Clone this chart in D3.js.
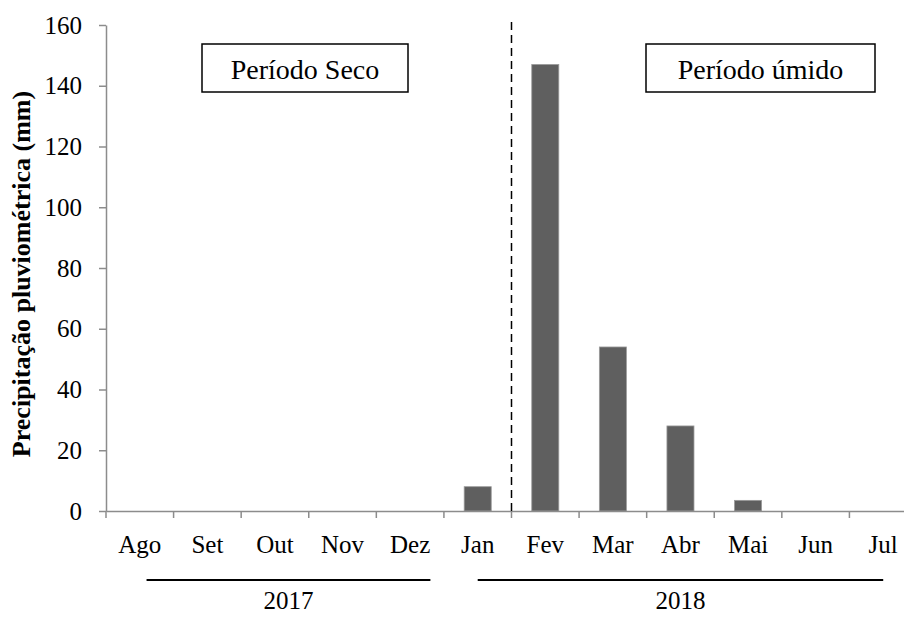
<!DOCTYPE html>
<html><head><meta charset="utf-8">
<script src="https://cdn.jsdelivr.net/npm/d3@7"></script>
<style>body{margin:0;background:#fff}svg{display:block}svg text{font-family:"Liberation Serif","DejaVu Serif",serif !important}</style>
</head><body><div id="chart"></div>
<script>
const months = ["Ago","Set","Out","Nov","Dez","Jan","Fev","Mar","Abr","Mai","Jun","Jul"];
const rainfall = [0,0,0,0,0,8,147,54,28,3.5,0,0];
const yTicks = [0,20,40,60,80,100,120,140,160];
const years = ["2017","2018"];
const yearFrom = ["Ago","Jan"];
const yearTo = ["Dez","Jul"];
const periods = ["Período Seco","Período úmido"];

const W=904,H=617;
const svg=d3.select("#chart").append("svg").attr("width",W).attr("height",H);
const x=d3.scaleBand().domain(months).range([106,917]).paddingInner(0).paddingOuter(0);
const y=d3.scaleLinear().domain([0,160]).range([511,25]);
const axisColor="#8c8c8c";
const serif='"Liberation Serif","DejaVu Serif",serif';
const fs=25;

// y axis
const ya=svg.append("g").attr("transform","translate(106,0)").call(d3.axisLeft(y).tickValues(yTicks).tickSize(7).tickPadding(17).tickSizeOuter(0));
ya.attr("font-family",serif);
ya.select(".domain").attr("stroke",axisColor).attr("stroke-width",1.5);
ya.selectAll(".tick line").attr("stroke",axisColor).attr("stroke-width",1.5);
ya.selectAll(".tick text").attr("font-size",fs).attr("fill","#000").style("font-family",serif);

// bars
const bw=x.bandwidth()*0.4;
svg.append("g").selectAll("rect").data(months.map((m,i)=>({m,v:rainfall[i]})).filter(d=>d.v>0)).join("rect")
 .attr("x",d=>x(d.m)+(x.bandwidth()-bw)/2).attr("width",bw)
 .attr("y",d=>y(d.v)).attr("height",d=>y(0)-y(d.v))
 .attr("fill","#5f5f5f").attr("stroke","#9a9a9a").attr("stroke-width",0.8);

// x axis
const xa=svg.append("g").attr("transform","translate(0,511)").call(d3.axisBottom(x).tickSize(0).tickPadding(24).tickSizeOuter(0));
xa.attr("font-family",serif);
xa.select(".domain").attr("stroke",axisColor).attr("stroke-width",1.5);
xa.selectAll(".tick text").attr("font-size",fs).attr("fill","#000").style("font-family",serif);
svg.append("g").selectAll("line").data(months).join("line")
 .attr("x1",d=>x(d)).attr("x2",d=>x(d)).attr("y1",511).attr("y2",518)
 .attr("stroke",axisColor).attr("stroke-width",1.5);

// dashed separator between Jan and Fev
svg.append("line").attr("x1",x("Fev")).attr("x2",x("Fev")).attr("y1",22).attr("y2",511)
 .attr("stroke","#000").attr("stroke-width",1.5).attr("stroke-dasharray","8,5");

// year lines and labels
const startFrac=[0.6,0.5], endFrac=[0.8,0.5];
const yx1=i=>x(yearFrom[i])+x.bandwidth()*startFrac[i];
const yx2=i=>x(yearTo[i])+x.bandwidth()*endFrac[i];
const yearG=svg.append("g");
yearG.selectAll("line").data(years).join("line")
 .attr("x1",(d,i)=>yx1(i)).attr("x2",(d,i)=>yx2(i))
 .attr("y1",580).attr("y2",580).attr("stroke","#000").attr("stroke-width",2);
yearG.selectAll("text").data(years).join("text")
 .attr("x",(d,i)=>(yx1(i)+yx2(i))/2).attr("y",609)
 .attr("text-anchor","middle").attr("font-size",fs).style("font-family",serif).text(d=>d);

// period boxes
const bx=[202,646], bwid=[206,229];
const pg=svg.append("g").selectAll("g").data(periods).join("g");
pg.append("rect").attr("x",(d,i)=>bx[i]).attr("y",44).attr("width",(d,i)=>bwid[i]).attr("height",48)
 .attr("fill","#fff").attr("stroke","#000").attr("stroke-width",1.5);
pg.append("text").attr("x",(d,i)=>bx[i]+bwid[i]/2).attr("y",79).attr("text-anchor","middle").attr("font-size",28)
 .style("font-family",serif).text(d=>d);

// y title
svg.append("text").attr("transform","translate(30,274) rotate(-90)").attr("text-anchor","middle")
 .attr("font-size",26).attr("font-weight","bold").style("font-family",serif).text("Precipitação pluviométrica  (mm)");
</script></body></html>
